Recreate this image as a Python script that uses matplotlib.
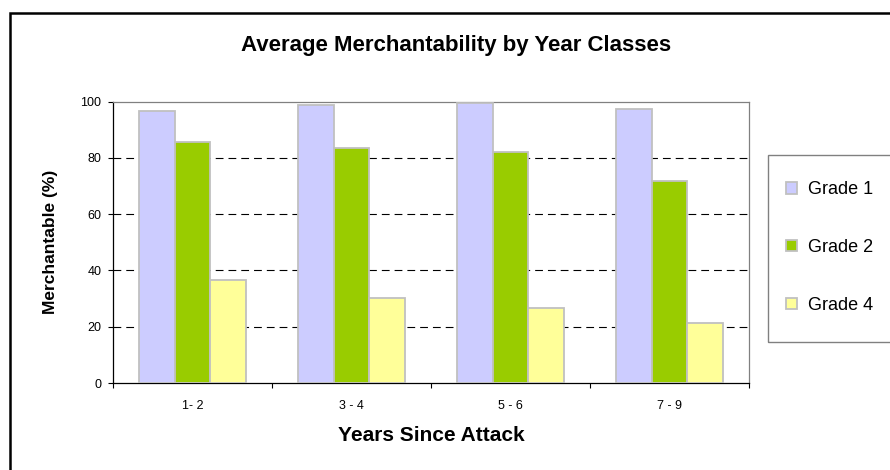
import matplotlib
matplotlib.use("Agg")
import matplotlib.pyplot as plt
import numpy as np
from matplotlib.patches import Rectangle

plt.rcParams['font.family'] = ['Liberation Sans', 'DejaVu Sans']

categories = ["1- 2", "3 - 4", "5 - 6", "7 - 9"]
series_names = ["Grade 1", "Grade 2", "Grade 4"]
grade1 = [96.8, 98.8, 99.4, 97.4]
grade2 = [85.5, 83.4, 82.0, 71.8]
grade4 = [36.5, 30.1, 26.8, 21.2]
yticks = [0, 20, 40, 60, 80, 100]

colors = ["#ccccff", "#99cc00", "#ffff99"]

W, H = 890, 470
fig = plt.figure(figsize=(W / 100, H / 100), dpi=100)
fig.patch.set_facecolor("white")

# outer frame (extends beyond right/bottom edge)
fig.patches.append(Rectangle((9.5 / W, -0.2), 1.5, 1 - 13 / H + 0.2,
                             transform=fig.transFigure, fill=False,
                             edgecolor="black", linewidth=1.8, zorder=0))

ax = fig.add_axes([113 / W, 87 / H, 636 / W, 281.3 / H])

x = np.arange(len(categories))
bw = 0.226
handles = []
for i, (vals, name) in enumerate(zip([grade1, grade2, grade4], series_names)):
    b = ax.bar(x + (i - 1) * bw, vals, bw, color=colors[i], edgecolor="#c0c0c0",
               linewidth=1.3, label=name, zorder=3)
    handles.append(b)

ax.set_xlim(-0.5, len(categories) - 0.5)
ax.set_ylim(0, 100)
ax.set_yticks(yticks)
ax.set_yticklabels([str(v) for v in yticks], fontsize=9)
ax.set_xticks(x)
ax.set_xticklabels(categories, fontsize=9)
ax.set_xticks(np.arange(len(categories) + 1) - 0.5, minor=True)
ax.tick_params(axis="x", which="major", length=0, pad=12)
ax.tick_params(axis="x", which="minor", length=3.5, width=0.8, direction="out")
ax.tick_params(axis="y", length=3.5, width=0.8, pad=5)

for v in yticks[1:-1]:
    ax.axhline(v, color="black", linewidth=0.8, dashes=(7, 4.5), zorder=1)

for s in ["left", "bottom"]:
    ax.spines[s].set_color("black")
    ax.spines[s].set_linewidth(0.9)
for s in ["top", "right"]:
    ax.spines[s].set_color("#808080")
    ax.spines[s].set_linewidth(0.9)

ax.set_xlabel("Years Since Attack", fontsize=15, fontweight="bold", labelpad=10)
ax.set_ylabel("Merchantable (%)", fontsize=12.5, fontweight="bold", labelpad=16)

fig.text(456 / W, 1 - 45 / H, "Average Merchantability by Year Classes",
         ha="center", va="center", fontsize=16, fontweight="bold")

# legend frame (extends beyond right edge)
fig.patches.append(Rectangle((768 / W, 1 - 341.7 / H), 0.5, (341.7 - 155) / H,
                             transform=fig.transFigure, fill=False,
                             edgecolor="#808080", linewidth=1.0))
leg = fig.legend(handles=handles, labels=series_names, loc="center left",
                 bbox_to_anchor=(786 / W, 1 - 247.5 / H), frameon=False,
                 fontsize=13, handlelength=0.6, handleheight=0.6,
                 handletextpad=0.6, labelspacing=2.25, borderpad=0,
                 borderaxespad=0)

fig.savefig("out.png", dpi=100)
